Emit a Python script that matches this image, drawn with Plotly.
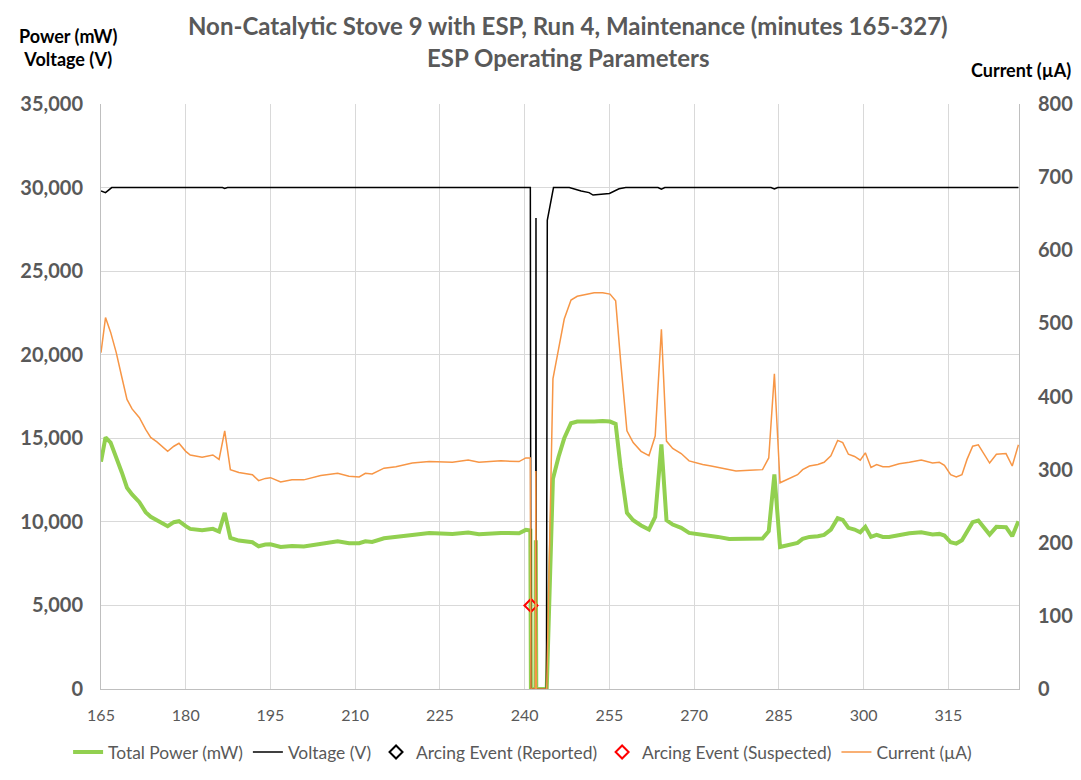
import plotly.graph_objects as go

# minutes for power and current readings
minutes = [165.0, 165.8, 166.7, 167.7, 168.7, 169.6, 170.5, 171.8, 172.9, 173.8,
           174.9, 176.8, 177.9, 178.8, 180.0, 180.8, 182.9, 184.8, 185.9, 186.9,
           187.9, 189.4, 191.8, 192.9, 194.1, 195.0, 196.8, 198.8, 200.9, 202.7,
           203.9, 206.9, 208.9, 210.7, 211.8, 213.0, 215.1, 217.2, 220.1, 223.1,
           225.1, 227.2, 230.0, 231.9, 235.8, 239.0, 240.2, 240.9, 241.0, 241.1,
           241.9, 241.97, 242.05, 243.9, 245.0, 246.0, 247.0, 248.2, 249.3, 252.3,
           253.8, 255.1, 256.1, 257.0, 258.1, 259.2, 260.6, 262.0, 263.1, 264.2,
           265.1, 266.2, 267.7, 269.1, 271.5, 273.0, 274.2, 276.2, 277.4, 279.8,
           282.1, 283.2, 284.2, 285.2, 286.8, 288.3, 289.2, 290.4, 291.9, 293.0,
           294.2, 295.4, 296.3, 297.3, 298.4, 299.4, 300.3, 301.3, 302.3, 303.4,
           304.5, 306.3, 308.1, 310.2, 312.2, 313.4, 314.3, 315.4, 316.4, 317.4,
           318.3, 319.3, 320.3, 322.3, 323.5, 325.2, 326.3, 327.4]

power_mw = [13600, 15050, 14740, 13900, 12940, 12040, 11640, 11180, 10580, 10300,
            10100, 9740, 9980, 10040, 9740, 9580, 9500, 9580, 9420, 10540,
            9040, 8880, 8780, 8540, 8640, 8660, 8500, 8560, 8520, 8620,
            8720, 8840, 8720, 8720, 8840, 8800, 9020, 9080, 9220, 9340,
            9320, 9280, 9360, 9260, 9340, 9320, 9520, 9480, 9480, 0,
            0, 8900, 0, 0, 12580, 13900, 15000, 15900, 16000, 16000,
            16040, 16000, 15860, 13200, 10540, 10100, 9780, 9540, 10300, 14640,
            10100, 9840, 9640, 9340, 9240, 9140, 9100, 8980, 8980, 9000,
            9000, 9440, 12840, 8500, 8600, 8740, 8980, 9100, 9140, 9220,
            9540, 10220, 10120, 9640, 9540, 9380, 9700, 9100, 9220, 9100,
            9100, 9240, 9320, 9380, 9240, 9280, 9180, 8780, 8700, 8900,
            9440, 9980, 10080, 9240, 9700, 9680, 9140, 10040]

current_ua = [460, 508, 488, 460, 426, 396, 383, 371, 355, 344,
              338, 325, 332, 336, 325, 320, 317, 320, 314, 353,
              300, 296, 293, 285, 288, 289, 283, 286, 286, 289,
              292, 295, 291, 290, 295, 294, 302, 304, 309, 311,
              311, 310, 313, 310, 312, 311, 316, 316, 316, 0,
              0, 298, 0, 0, 424, 465, 506, 532, 537, 542,
              542, 540, 531, 447, 353, 337, 325, 319, 346, 492,
              339, 329, 322, 312, 307, 305, 303, 300, 298, 299,
              300, 316, 431, 282, 288, 293, 300, 305, 307, 310,
              319, 340, 337, 321, 318, 313, 323, 303, 307, 304,
              304, 308, 310, 313, 309, 310, 306, 293, 290, 293,
              314, 332, 334, 309, 321, 322, 305, 334]

# voltage readings
volt_minutes = [165.0, 165.8, 166.9, 186.5, 186.9, 187.4, 241.0, 241.1, 241.95, 242.0,
                242.05, 243.85, 244.0, 245.1, 247.9, 250.0, 251.4, 252.1, 253.5, 255.0,
                256.7, 257.9, 263.6, 264.2, 264.8, 283.6, 284.2, 284.8, 327.4]
voltage_v = [29800, 29700, 30000, 30000, 29950, 30000, 30000, 0, 0, 28180,
             0, 0, 28040, 30000, 30000, 29800, 29700, 29550, 29620, 29650,
             29930, 30000, 30000, 29900, 30000, 30000, 29920, 30000, 30000]

# arcing events (none reported in this window)
reported_minutes = [None]
reported_level = [None]
suspected_minutes = [241.1]
suspected_level = [5000]

GRAY = '#595959'
FONT = 'Lato'

fig = go.Figure()
fig.add_trace(go.Scatter(x=minutes, y=power_mw, mode='lines', name='Total Power (mW)',
                         line=dict(color='#92D050', width=4)))
fig.add_trace(go.Scatter(x=volt_minutes, y=voltage_v, mode='lines', name='Voltage (V)',
                         line=dict(color='black', width=1.5)))
fig.add_trace(go.Scatter(x=reported_minutes, y=reported_level, mode='markers',
                         name='Arcing Event (Reported)',
                         marker=dict(symbol='diamond-open', size=10, color='black',
                                     line=dict(width=2))))
fig.add_trace(go.Scatter(x=suspected_minutes, y=suspected_level, mode='markers',
                         name='Arcing Event (Suspected)',
                         marker=dict(symbol='diamond-open', size=10, color='#FF0000',
                                     line=dict(width=2))))
fig.add_trace(go.Scatter(x=minutes, y=current_ua, mode='lines', name='Current (µA)',
                         yaxis='y2', line=dict(color='#F79646', width=1.5)))

# page body adds an 8px margin, so the figure is 8px smaller on each side
fig.update_layout(
    width=1073, height=772,
    margin=dict(l=93, r=62, t=96, b=91, autoexpand=False),
    paper_bgcolor='white', plot_bgcolor='white',
    font=dict(family=FONT, color=GRAY),
    showlegend=True,
    legend=dict(orientation='h', xref='container', x=0.056, xanchor='left',
                y=-0.108, yanchor='middle',
                font=dict(size=17.4, color=GRAY), itemwidth=30, tracegroupgap=0),
    xaxis=dict(range=[165, 327.5], tick0=165, dtick=15, showgrid=True,
               gridcolor='#d9d9d9', showline=True, linecolor='#bfbfbf',
               ticks='', zeroline=False, ticklabelstandoff=12,
               tickfont=dict(size=16, color=GRAY)),
    yaxis=dict(range=[0, 35000], dtick=5000, tickformat=',', showgrid=True,
               gridcolor='#d9d9d9', showline=True, linecolor='#bfbfbf',
               zeroline=False, ticks='', ticklabelstandoff=13,
               tickfont=dict(size=20, color=GRAY, weight='bold')),
    yaxis2=dict(range=[0, 800], dtick=100, overlaying='y', side='right',
                showgrid=False, showline=True, linecolor='#bfbfbf',
                zeroline=False, ticks='', ticklabelstandoff=14,
                tickfont=dict(size=20, color=GRAY, weight='bold')),
    annotations=[
        dict(text='Non-Catalytic Stove 9 with ESP, Run 4, Maintenance (minutes 165-327)',
             xref='paper', yref='paper', x=0.5087, y=1.135, showarrow=False,
             xanchor='center', yanchor='middle',
             font=dict(size=24, color=GRAY, weight='bold')),
        dict(text='ESP Operating Parameters',
             xref='paper', yref='paper', x=0.5087, y=1.080, showarrow=False,
             xanchor='center', yanchor='middle',
             font=dict(size=24, color=GRAY, weight='bold')),
        dict(text='Power (mW)<br>Voltage (V)',
             xref='paper', yref='paper', x=-0.036, y=1.096, showarrow=False,
             xanchor='center', yanchor='middle',
             font=dict(size=18, color='black', weight='bold')),
        dict(text='Current (µA)',
             xref='paper', yref='paper', x=1.002, y=1.058, showarrow=False,
             xanchor='center', yanchor='middle',
             font=dict(size=18, color='black', weight='bold')),
    ],
)

fig.write_html('out.html')
